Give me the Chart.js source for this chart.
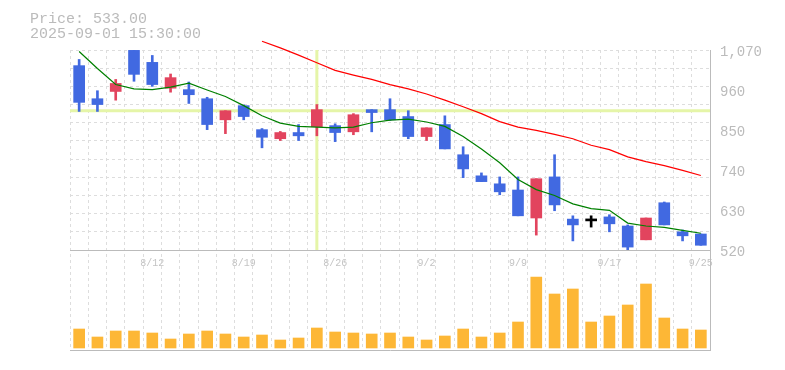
<!DOCTYPE html>
<html>
<head>
<meta charset="utf-8">
<script src="https://cdn.jsdelivr.net/npm/chart.js@4"></script>
<style>
  html, body { margin: 0; padding: 0; background: #fff; }
  canvas { display: block; }
</style>
</head>
<body>
<canvas id="stock-chart" width="785" height="370"></canvas>
<script>
const dates = ['8/5', '8/6', '8/7', '8/8', '8/12', '8/13', '8/14', '8/15', '8/18', '8/19',
    '8/20', '8/21', '8/22', '8/25', '8/26', '8/27', '8/28', '8/29', '9/1', '9/2',
    '9/3', '9/4', '9/5', '9/8', '9/9', '9/10', '9/11', '9/12', '9/16', '9/17',
    '9/18', '9/19', '9/22', '9/24', '9/25'];

const opens  = [1027, 936, 956, 1069, 1036, 965, 961, 936, 878, 917, 851, 826, 843, 859, 862, 845, 906, 906, 887, 832,
    865, 782, 724, 702, 685, 608, 721, 605, 600, 611, 586, 548, 650, 570, 564];
const closes = [926, 920, 978, 1003, 975, 994, 947, 865, 903, 887, 830, 843, 834, 906, 843, 892, 898, 878, 832, 856,
    798, 743, 708, 680, 614, 716, 644, 589, 600, 592, 528, 608, 589, 559, 533];
const highs  = [1044, 958, 989, 1070, 1055, 1004, 982, 940, 903, 919, 854, 846, 865, 920, 867, 895, 906, 936, 903, 856,
    889, 804, 732, 721, 721, 716, 782, 614, 614, 617, 589, 608, 652, 575, 564];
const lows   = [901, 901, 932, 984, 970, 954, 923, 851, 840, 878, 801, 821, 821, 834, 818, 837, 845, 876, 826, 821,
    798, 719, 708, 672, 614, 561, 628, 545, 583, 570, 520, 548, 589, 545, 533];

// volume in thousand shares
const volumes = [76, 44, 68, 68, 60, 36, 56, 68, 56, 44, 52, 32, 40, 80, 64, 60, 56, 60, 44, 32,
    48, 76, 44, 60, 104, 284, 216, 236, 104, 128, 172, 256, 120, 76, 72];

const ma5  = [1066, 1019, 975, 963, 961, 968, 979, 960, 942, 917, 889, 869, 860, 858, 856, 858, 870, 877, 880, 872,
    860, 832, 798, 760, 714, 686, 670, 647, 634, 629, 594, 586, 582, 574, 566];
const ma25 = [null, null, null, null, null, null, null, null, null, null,
    1094, 1076, 1056, 1035, 1014, 1001, 989, 975, 963, 949, 932, 914, 895, 873, 858,
    849, 838, 826, 808, 796, 776, 763, 752, 739, 725];

const priceGrid = [520, 570, 620, 670, 720, 770, 820, 870, 920, 970, 1020, 1070];
const priceLabels = [520, 630, 740, 850, 960, 1070];

const crossDate = '8/25';
const crossPrice = 903;
const infoLines = ['Price: 533.00', '2025-09-01 15:30:00'];

const candleColor = (i) => closes[i] > opens[i] ? '#e2445e' : (closes[i] < opens[i] ? '#4169e1' : '#000000');
const colors = dates.map((d, i) => candleColor(i));

Chart.defaults.font.family = '"Liberation Mono", "DejaVu Sans Mono", monospace';

const crosshair = {
    id: 'crosshair',
    beforeDatasetsDraw(chart) {
        const {ctx, chartArea, scales} = chart;
        const x = scales.x.getPixelForValue(dates.indexOf(crossDate));
        const y = scales.y.getPixelForValue(crossPrice);
        ctx.save();
        ctx.strokeStyle = '#e5f5a8';
        ctx.lineWidth = 3;
        ctx.beginPath();
        ctx.moveTo(x, scales.y.getPixelForValue(1070));
        ctx.lineTo(x, scales.y.getPixelForValue(520));
        ctx.moveTo(chartArea.left, y);
        ctx.lineTo(chartArea.right, y);
        ctx.stroke();
        ctx.restore();
    }
};

const infoText = {
    id: 'infoText',
    afterDraw(chart) {
        const ctx = chart.ctx;
        ctx.save();
        ctx.font = '15px "Liberation Mono", monospace';
        ctx.fillStyle = '#bbbbbb';
        ctx.textBaseline = 'middle';
        ctx.fillText(infoLines[0], 30, 19);
        ctx.fillText(infoLines[1], 30, 34.5);
        ctx.restore();
    }
};

const fixWidth = (scale) => { scale.width = 75; };

const stock_chart = new Chart(
    document.getElementById('stock-chart').getContext('2d'), {
    data: {
        labels: dates,
        datasets: [{
            type: 'line',
            label: 'MA5',
            data: ma5,
            yAxisID: 'y',
            borderColor: '#008000',
            borderWidth: 1.2,
            pointRadius: 0,
            order: 0,
        },
        {
            type: 'line',
            label: 'MA25',
            data: ma25,
            yAxisID: 'y',
            borderColor: '#ff0000',
            borderWidth: 1.2,
            pointRadius: 0,
            clip: {left: 0, top: 12, right: 0, bottom: 0},
            order: 0,
        },
        {
            type: 'bar',
            label: 'Body',
            data: opens.map((o, i) => [o, closes[i]]),
            yAxisID: 'y',
            backgroundColor: colors,
            barThickness: 11,
            minBarLength: 2,
            grouped: false,
            order: 1,
        },
        {
            type: 'bar',
            label: 'Wick',
            data: lows.map((l, i) => [l, highs[i]]),
            yAxisID: 'y',
            backgroundColor: colors,
            barThickness: 2,
            grouped: false,
            order: 2,
        },
        {
            type: 'bar',
            label: 'Volume',
            data: volumes,
            yAxisID: 'yv',
            backgroundColor: '#fdb736',
            barThickness: 11,
            grouped: false,
            order: 3,
        }]
    },
    options: {
        responsive: false,
        animation: false,
        layout: {
            padding: {left: 70, right: 0, top: 50, bottom: 20}
        },
        plugins: {
            legend: {display: false},
            tooltip: {enabled: false},
        },
        scales: {
            x: {
                type: 'category',
                position: 'bottom',
                offset: true,
                grid: {offset: true, color: '#dddddd', drawTicks: false},
                border: {display: true, color: '#bbbbbb', dash: [3, 3]},
                ticks: {display: false},
            },
            xd: {
                type: 'category',
                axis: 'x',
                position: {y: 520},
                offset: true,
                grid: {display: false, drawTicks: false},
                border: {display: true, color: '#bbbbbb'},
                ticks: {
                    autoSkip: false,
                    maxRotation: 0,
                    padding: 7,
                    color: '#c4c4c4',
                    font: {size: 10},
                    callback: (v, i) => i % 5 === 4 ? dates[i] : '',
                },
            },
            y: {
                position: 'right',
                stack: 'panes',
                stackWeight: 2,
                min: 520,
                max: 1070,
                afterBuildTicks: (scale) => {
                    const vals = [...new Set([...priceGrid, ...priceLabels])].sort((a, b) => a - b);
                    scale.ticks = vals.map(v => ({value: v}));
                },
                afterFit: fixWidth,
                grid: {
                    drawTicks: false,
                    color: (ctx) => ctx.tick && priceGrid.includes(ctx.tick.value) ? '#dddddd' : 'rgba(0,0,0,0)',
                },
                border: {display: true, color: '#bbbbbb', dash: [3, 3]},
                ticks: {
                    autoSkip: false,
                    padding: 10,
                    labelOffset: 2,
                    color: '#bbbbbb',
                    font: {size: 14},
                    callback: (v) => priceLabels.includes(v) ? v.toLocaleString('en-US') : '',
                },
            },
            yv: {
                axis: 'y',
                position: 'right',
                stack: 'panes',
                stackWeight: 1,
                min: -8,
                max: 392,
                afterFit: fixWidth,
                grid: {display: false, drawTicks: false},
                border: {display: true, color: '#bbbbbb'},
                ticks: {display: false},
            }
        }
    },
    plugins: [crosshair, infoText]
});
</script>
</body>
</html>
